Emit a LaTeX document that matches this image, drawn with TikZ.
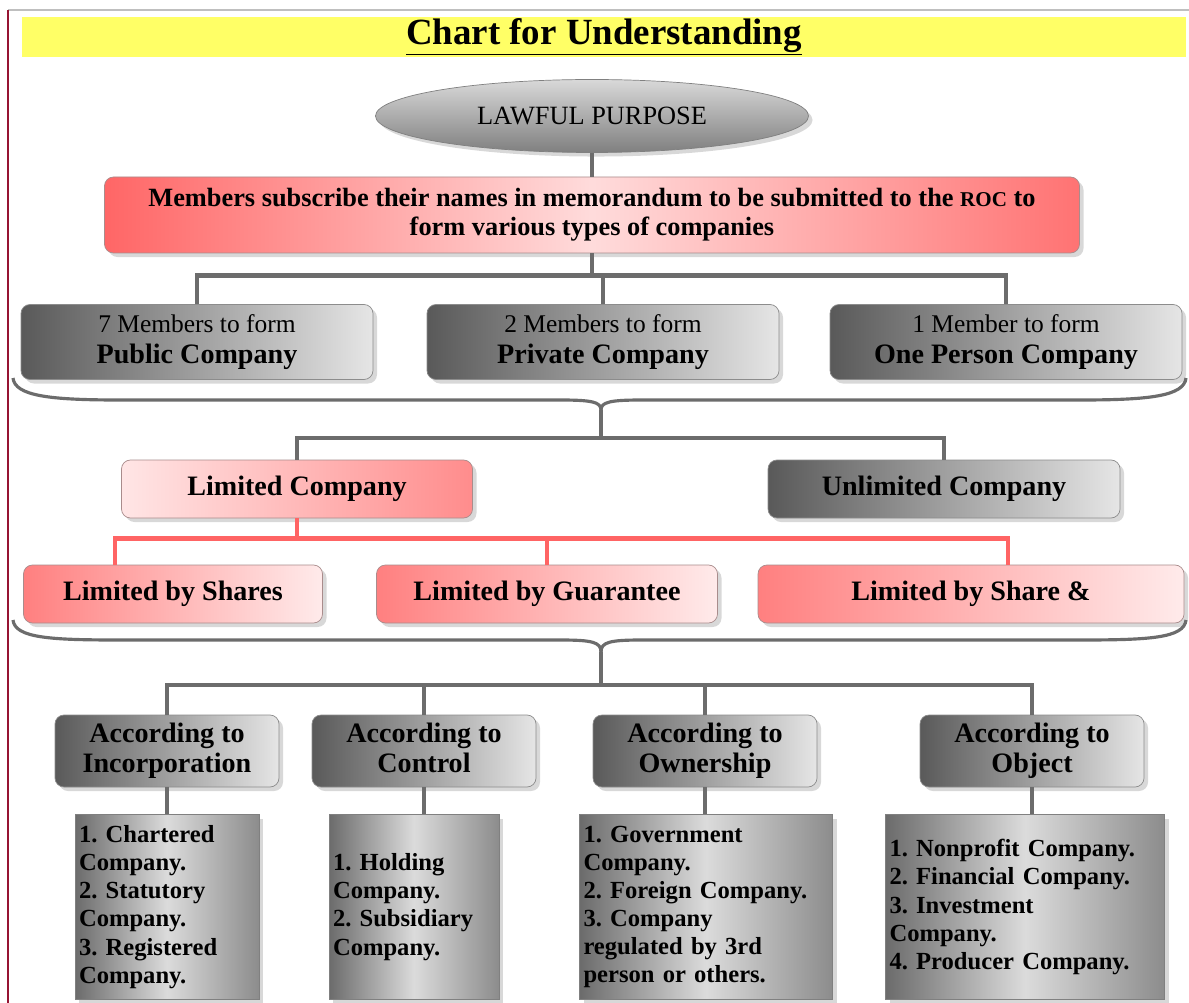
\documentclass[tikz,border=0pt]{standalone}
\usepackage{fontspec}
\setmainfont{Liberation Serif}
\usetikzlibrary{positioning,shapes.geometric,shadows,calc}
\newlength\px
\setlength\px{0.02cm}
\definecolor{banner}{RGB}{255,255,102}
\definecolor{margin}{RGB}{150,20,50}
\definecolor{connred}{RGB}{255,100,100}
\definecolor{conngray}{RGB}{108,108,108}
\frenchspacing

\begin{document}
\begin{tikzpicture}[x=1\px,y=-1\px,
    graybox/.style={draw=black!45,rounded corners=9\px,left color=black!65,right color=black!10,
      drop shadow={opacity=.3},align=center,minimum width=352\px,minimum height=75\px,
      font=\fontsize{14.5}{18}\selectfont},
    pinkbox/.style={draw=red!25!black!45,rounded corners=9\px,left color=red!50,right color=red!8,
      drop shadow={opacity=.3},align=center,minimum height=58\px,
      font=\fontsize{16}{19}\selectfont\bfseries},
    headbox/.style={graybox,minimum width=224\px,minimum height=72\px,text depth=4pt,
      font=\fontsize{16}{17}\selectfont\bfseries},
    listbox/.style={draw=black!50,left color=black!58,right color=black!45,middle color=black!14,
      drop shadow={opacity=.3},align=left,minimum height=185\px,inner xsep=4\px,
      font=\fontsize{14}{16}\selectfont\bfseries},
    conn/.style={draw=conngray,line width=2.8pt},
    redconn/.style={draw=connred,line width=2.8pt},
    bracepath/.style={draw=conngray,line width=1.8pt}]

\useasboundingbox (0,0) rectangle (1189,1003);
\fill[white] (0,0) rectangle (1189,1003);

% page edges and title band
\draw[black!25,line width=1pt] (8,10) -- (1189,10);
\draw[margin,line width=1.1pt] (8,10) -- (8,1003);
\fill[banner] (22,17) rectangle (1186,57);
\node[font=\fontsize{21}{24}\selectfont\bfseries] (title) at (604,37) {\underline{Chart for Understanding}};

% top of the chart
\node[ellipse,draw=black!50,top color=black!15,bottom color=black!50,drop shadow={opacity=.3},
    minimum width=433\px,minimum height=73\px,font=\fontsize{15}{18}\selectfont]
    (lawful) at (592,116) {LAWFUL PURPOSE};
\node[pinkbox,left color=red!60,right color=red!55,middle color=red!14,minimum width=975\px,
    minimum height=76\px,font=\fontsize{15}{16.5}\selectfont\bfseries]
    (memo) at (592,215) {Members subscribe their names in memorandum to be submitted to the {\fontsize{12}{14}\selectfont ROC} to\\form various types of companies};

\node[graybox] (public) at (197,342) {7 Members to form\\{\bfseries\fontsize{16}{18}\selectfont Public Company}};
\node[graybox] (private) at (603,342) {2 Members to form\\{\bfseries\fontsize{16}{18}\selectfont Private Company}};
\node[graybox] (oneperson) at (1006,342) {1 Member to form\\{\bfseries\fontsize{16}{18}\selectfont One Person Company}};

\draw[conn] (lawful) -- (memo);
\draw[conn] (memo.south) -- ++(0,22) coordinate (split1);
\draw[conn] (public.north) |- (split1) -| (oneperson.north);
\draw[conn] (private.north) -- (private.north |- split1);

% first brace
\coordinate (brace1) at (601,410);
\draw[bracepath] (13,378) .. controls (15,396) and (50,400) .. (120,400) -- (560,400)
    .. controls (592,400) and (601,402) .. (brace1);
\draw[bracepath] (1186,378) .. controls (1184,396) and (1150,400) .. (1080,400) -- (642,400)
    .. controls (610,400) and (601,402) .. (brace1);
\draw[conn] (brace1) -- ++(0,28) coordinate (split2);

\node[pinkbox,left color=red!10,right color=red!45,minimum width=351\px] (limco) at (297,489) {Limited Company};
\node[graybox,minimum height=58\px,font=\fontsize{16}{19}\selectfont\bfseries] (unlimco) at (944,489) {Unlimited Company};
\draw[conn] (limco.north) |- (split2) -| (unlimco.north);

\node[pinkbox,minimum width=299\px] (byshares) at (173,594) {Limited by Shares};
\node[pinkbox,minimum width=341\px] (byguar) at (547,594) {Limited by Guarantee};
\node[pinkbox,minimum width=426\px] (bysharegu) at (971,594) {Limited by Share \&};

\draw[redconn] (limco.south) -- ++(0,20) coordinate (split3);
\draw[redconn] ($(byshares.north)+(-58,0)$) |- (split3) -| ($(bysharegu.north)+(37,0)$);
\draw[redconn] (byguar.north) -- (byguar.north |- split3);

% second brace
\coordinate (brace2) at (601,652);
\draw[bracepath] (13,620) .. controls (15,638) and (50,640) .. (120,640) -- (560,640)
    .. controls (592,640) and (601,642) .. (brace2);
\draw[bracepath] (1186,620) .. controls (1184,638) and (1150,640) .. (1080,640) -- (642,640)
    .. controls (610,640) and (601,642) .. (brace2);
\draw[conn] (brace2) -- ++(0,33) coordinate (split4);

% kinds of companies
\node[headbox] (incorp) at (167,751) {According to\\Incorporation};
\node[headbox] (control) at (424,751) {According to\\Control};
\node[headbox] (owner) at (705,751) {According to\\Ownership};
\node[headbox] (object) at (1032,751) {According to\\Object};

\draw[conn] (incorp.north) |- (split4) -| (object.north);
\draw[conn] (control.north) -- (control.north |- split4);
\draw[conn] (owner.north) -- (owner.north |- split4);

\node[listbox,text width=176\px] (incl) at (167,907) {1. Chartered\\Company.\\2. Statutory\\Company.\\3. Registered\\Company.};
\node[listbox,text width=162\px] (conl) at (414,907) {1. Holding\\Company.\\2. Subsidiary\\Company.};
\node[listbox,text width=245\px] (ownl) at (706,907) {1. Government\\Company.\\2. Foreign Company.\\3. Company\\regulated by 3rd\\person or others.};
\node[listbox,text width=271\px] (objl) at (1025,907) {1. Nonprofit Company.\\2. Financial Company.\\3. Investment\\Company.\\4. Producer Company.};

\draw[conn] (incorp.south) -- (incorp.south |- incl.north);
\draw[conn] (control.south) -- (control.south |- conl.north);
\draw[conn] (owner.south) -- (owner.south |- ownl.north);
\draw[conn] (object.south) -- (object.south |- objl.north);
\end{tikzpicture}
\end{document}
